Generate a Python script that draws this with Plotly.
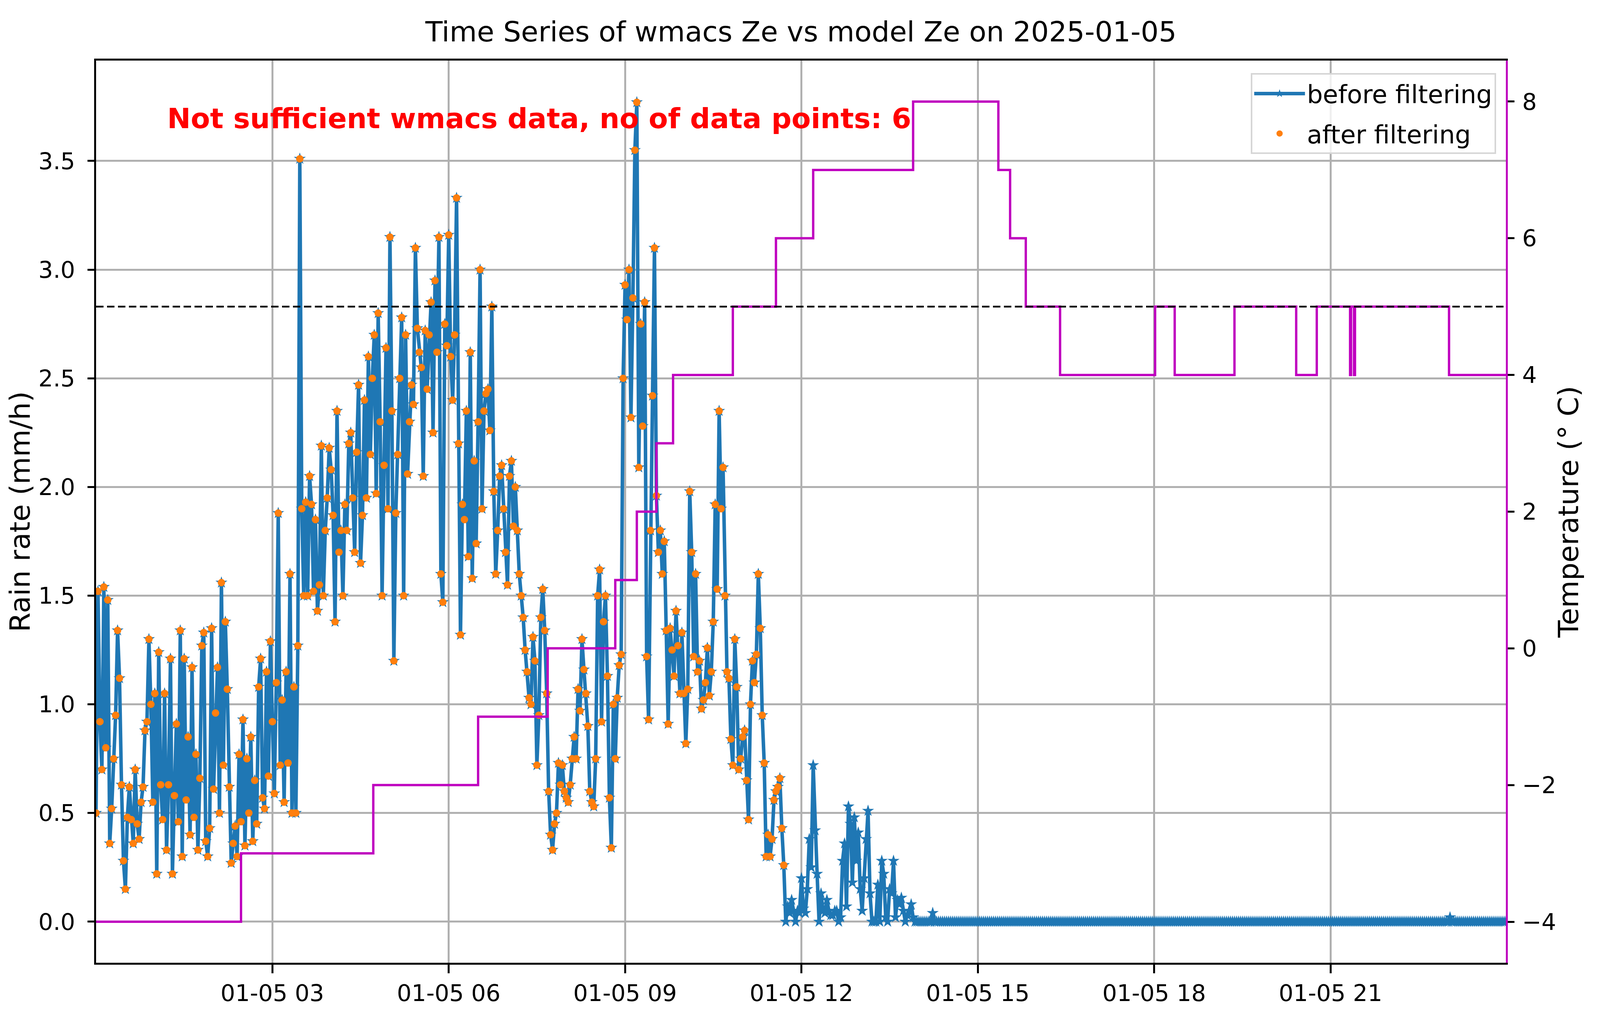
import pandas as pd
import plotly.graph_objects as go
from plotly.subplots import make_subplots

day = "2025-01-05"
step_min = 2  # rain rate sampled every 2 minutes from 00:00

# Rain rate (mm/h) 00:00 - 11:42, kept by the filter too
rain_morning = [
    # 00:00 - 01:00
    0.50, 1.52, 0.92, 0.70, 1.54, 0.80, 1.48, 0.36, 0.52, 0.75,
    0.95, 1.34, 1.12, 0.63, 0.28, 0.15, 0.48, 0.62, 0.47, 0.36,
    0.70, 0.45, 0.38, 0.55, 0.62, 0.88, 0.92, 1.30, 1.00, 0.55,
    # 01:00 - 02:00
    1.05, 0.22, 1.24, 0.63, 0.47, 1.05, 0.33, 0.63, 1.21, 0.22,
    0.58, 0.91, 0.46, 1.34, 0.30, 1.21, 0.56, 0.85, 0.40, 1.17,
    0.48, 0.77, 0.33, 0.66, 1.27, 1.33, 0.37, 0.30, 0.43, 1.35,
    # 02:00 - 03:00
    0.61, 0.96, 1.17, 0.50, 1.56, 0.72, 1.38, 1.07, 0.62, 0.27,
    0.36, 0.44, 0.30, 0.77, 0.46, 0.93, 0.35, 0.75, 0.50, 0.85,
    0.37, 0.65, 0.45, 1.08, 1.21, 0.57, 0.52, 1.15, 0.67, 1.29,
    # 03:00 - 04:00
    0.92, 0.59, 1.10, 1.88, 0.72, 1.02, 0.55, 1.15, 0.73, 1.60,
    0.50, 1.08, 0.50, 1.27, 3.51, 1.90, 1.50, 1.93, 1.50, 2.05,
    1.92, 1.52, 1.85, 1.43, 1.55, 2.19, 1.50, 1.80, 1.95, 2.18,
    # 04:00 - 05:00
    2.08, 1.87, 1.38, 2.35, 1.70, 1.80, 1.50, 1.92, 1.80, 2.20,
    2.25, 1.95, 1.70, 2.16, 2.47, 1.65, 1.87, 2.40, 1.95, 2.60,
    2.15, 2.50, 2.70, 1.97, 2.80, 2.30, 1.50, 2.10, 2.64, 1.90,
    # 05:00 - 06:00
    3.15, 2.35, 1.20, 1.88, 2.15, 2.50, 2.78, 1.50, 2.70, 2.06,
    2.30, 2.47, 2.38, 3.10, 2.73, 2.62, 2.55, 2.05, 2.72, 2.45,
    2.70, 2.85, 2.25, 2.95, 2.62, 3.15, 1.60, 1.47, 2.75, 2.65,
    # 06:00 - 07:00
    3.16, 2.60, 2.40, 2.70, 3.33, 2.20, 1.32, 1.92, 1.85, 2.35,
    1.68, 2.62, 1.58, 2.12, 1.74, 2.30, 3.00, 1.90, 2.35, 2.43,
    2.45, 2.26, 2.83, 1.98, 1.60, 1.80, 2.05, 2.10, 1.90, 1.70,
    # 07:00 - 08:00
    1.55, 2.05, 2.12, 1.82, 2.00, 1.80, 1.60, 1.50, 1.40, 1.25,
    1.15, 1.03, 1.00, 1.31, 1.20, 0.72, 0.95, 1.40, 1.53, 1.34,
    1.05, 0.60, 0.40, 0.33, 0.45, 0.50, 0.73, 0.63, 0.72, 0.60,
    # 08:00 - 09:00
    0.57, 0.55, 0.63, 0.75, 0.85, 0.75, 1.07, 0.97, 1.30, 1.16,
    1.05, 0.90, 0.60, 0.55, 0.53, 0.75, 1.50, 1.62, 0.92, 1.38,
    1.50, 1.13, 0.57, 0.34, 1.00, 0.75, 1.03, 1.18, 1.23, 2.50,
    # 09:00 - 10:00
    2.93, 2.77, 3.00, 2.32, 2.87, 3.55, 3.77, 2.09, 2.75, 2.28,
    2.85, 1.22, 0.93, 1.80, 2.42, 3.10, 1.96, 1.70, 1.80, 1.60,
    1.75, 1.34, 0.91, 1.35, 1.25, 1.13, 1.43, 1.27, 1.05, 1.33,
    # 10:00 - 11:00
    1.05, 0.82, 1.07, 1.98, 1.70, 1.22, 1.60, 1.15, 1.20, 0.98,
    1.02, 1.10, 1.26, 1.04, 1.15, 1.38, 1.92, 1.53, 2.35, 1.90,
    2.09, 1.50, 1.15, 1.12, 0.84, 0.72, 1.30, 1.08, 0.70, 0.75,
    # 11:00 - 11:42
    0.85, 0.88, 0.65, 0.47, 1.00, 1.20, 1.10, 1.23, 1.60, 1.35,
    0.95, 0.73, 0.30, 0.40, 0.30, 0.38, 0.56, 0.60, 0.62, 0.66,
    0.43, 0.26,
]

# Rain rate 11:44 - 14:22, only before filtering
rain_midday = [
    0.00, 0.07, 0.04, 0.10, 0.05, 0.00, 0.05, 0.04, 0.20, 0.06,
    0.04, 0.15, 0.38, 0.25, 0.72, 0.42, 0.22, 0.00, 0.13, 0.05,
    0.04, 0.10, 0.05, 0.03, 0.03, 0.05, 0.05, 0.00, 0.02, 0.28,
    0.36, 0.07, 0.53, 0.45, 0.18, 0.48, 0.28, 0.41, 0.15, 0.05,
    0.20, 0.38, 0.51, 0.13, 0.00, 0.00, 0.00, 0.17, 0.00, 0.28,
    0.22, 0.02, 0.00, 0.15, 0.13, 0.28, 0.02, 0.10, 0.08, 0.11,
    0.05, 0.00, 0.03, 0.05, 0.08, 0.02, 0.00, 0.00, 0.00, 0.00,
    0.00, 0.00, 0.00, 0.00, 0.00, 0.04, 0.00, 0.00, 0.00, 0.00,
]

# Rain rate 14:24 - 23:58, dry
rain_evening = [
    0, 0, 0, 0, 0, 0, 0, 0, 0, 0, 0, 0, 0, 0, 0, 0, 0, 0, 0, 0, 0, 0, 0, 0,
    0, 0, 0, 0, 0, 0, 0, 0, 0, 0, 0, 0, 0, 0, 0, 0, 0, 0, 0, 0, 0, 0, 0, 0,
    0, 0, 0, 0, 0, 0, 0, 0, 0, 0, 0, 0, 0, 0, 0, 0, 0, 0, 0, 0, 0, 0, 0, 0,
    0, 0, 0, 0, 0, 0, 0, 0, 0, 0, 0, 0, 0, 0, 0, 0, 0, 0, 0, 0, 0, 0, 0, 0,
    0, 0, 0, 0, 0, 0, 0, 0, 0, 0, 0, 0, 0, 0, 0, 0, 0, 0, 0, 0, 0, 0, 0, 0,
    0, 0, 0, 0, 0, 0, 0, 0, 0, 0, 0, 0, 0, 0, 0, 0, 0, 0, 0, 0, 0, 0, 0, 0,
    0, 0, 0, 0, 0, 0, 0, 0, 0, 0, 0, 0, 0, 0, 0, 0, 0, 0, 0, 0, 0, 0, 0, 0,
    0, 0, 0, 0, 0, 0, 0, 0, 0, 0, 0, 0, 0, 0, 0, 0, 0, 0, 0, 0, 0, 0, 0, 0,
    0, 0, 0, 0, 0, 0, 0, 0, 0, 0, 0, 0, 0, 0, 0, 0, 0, 0, 0, 0, 0, 0, 0, 0,
    0, 0, 0, 0, 0, 0, 0, 0, 0, 0, 0, 0, 0, 0, 0, 0, 0, 0, 0, 0, 0, 0, 0, 0,
    0, 0, 0, 0, 0, 0, 0, 0, 0, 0, 0, 0, 0, 0, 0, 0, 0, 0, 0, 0.02, 0, 0, 0, 0,
    0, 0, 0, 0, 0, 0, 0, 0, 0, 0, 0, 0, 0, 0, 0, 0, 0, 0, 0, 0, 0, 0, 0, 0,
]

# Model temperature (deg C), value holds from the given minute of the day
temp_minute = [0, 148, 283, 390, 461, 530, 552, 572, 589, 650, 694, 732, 834, 921,
               933, 949, 984, 1081, 1101, 1162, 1225, 1246, 1280, 1281, 1284, 1285,
               1381, 1439]
temp_value = [-4, -3, -2, -1, 0, 1, 2, 3, 4, 5, 6, 7, 8, 7,
              6, 5, 4, 5, 4, 5, 4, 5, 4, 5, 4, 5,
              4, 4]
threshold_temp = 5

tick_hours = [3, 6, 9, 12, 15, 18, 21]
data_points = 6

title = "Time Series of wmacs Ze vs model Ze on " + day
note = "Not sufficient wmacs data, no of data points: " + str(data_points)

# Build time axes
rain_before = rain_morning + rain_midday + rain_evening
rain_after = rain_morning
t0 = pd.Timestamp(day)
rain_time = pd.date_range(t0, periods=len(rain_before), freq=str(step_min) + "min")
temp_time = t0 + pd.to_timedelta(temp_minute, unit="min")
tick_time = [t0 + pd.Timedelta(hours=h) for h in tick_hours]

font = "DejaVu Sans"
blue = "#1f77b4"
orange = "#ff7f0e"
magenta = "#bf00bf"
grid = "#b0b0b0"

# the browser screen is 4096 px wide, so the page is sized to fit in it
fig_w, fig_h = 4080, 2615

fig = make_subplots(specs=[[{"secondary_y": True}]])

fig.add_trace(go.Scatter(x=rain_time, y=rain_before, name="before filtering",
                         mode="lines+markers", legendgroup="a",
                         line=dict(color=blue, width=9),
                         marker=dict(symbol="star", size=23, color=blue)),
              secondary_y=False)
fig.add_trace(go.Scatter(x=rain_time[:len(rain_after)], y=rain_after, name="after filtering",
                         mode="markers", legendgroup="b",
                         marker=dict(symbol="circle", size=19, color=orange)),
              secondary_y=False)
fig.add_trace(go.Scatter(x=temp_time, y=temp_value, mode="lines", showlegend=False,
                         line=dict(color=magenta, width=6, shape="hv")),
              secondary_y=True)

# threshold line on the temperature axis
fig.add_shape(type="line", xref="x domain", x0=0, x1=1, yref="y2",
              y0=threshold_temp, y1=threshold_temp,
              line=dict(color="black", width=4.5, dash="19px,9px"))

fig.add_annotation(text="<b>" + note + "</b>", xref="x domain", yref="y domain",
                   x=0.05, y=0.955, xanchor="left", yanchor="top", showarrow=False,
                   font=dict(family=font, size=72, color="red"))

axis_common = dict(showline=True, linecolor="black", linewidth=5,
                   ticks="outside", tickwidth=4.5, tickcolor="black",
                   ticklabelposition="outside",
                   tickfont=dict(family=font, size=59, color="black"),
                   zeroline=False, automargin=False)

# make_subplots keeps room for the right axis; use the full width instead
fig.update_xaxes(type="date", domain=[0, 1],
                 range=[t0 + pd.Timedelta(seconds=5), t0 + pd.Timedelta(minutes=1439)],
                 tickvals=tick_time, tickformat="%m-%d %H", mirror=True, ticklen=22,
                 showgrid=True, gridcolor=grid, gridwidth=4.5, ticklabelstandoff=0,
                 **axis_common)
fig.update_yaxes(range=[-0.189, 3.962], tickvals=[0, 0.5, 1, 1.5, 2, 2.5, 3, 3.5],
                 tickformat=".1f", showgrid=True, gridcolor=grid, gridwidth=4.5,
                 ticklen=17, ticklabelstandoff=20,
                 title=dict(text="Rain rate (mm/h)", font=dict(family=font, size=72),
                            standoff=0),
                 secondary_y=False, **axis_common)
axis_right = dict(axis_common, linecolor=magenta)
fig.update_yaxes(range=[-4.6, 8.6], tickvals=[-4, -2, 0, 2, 4, 6, 8],
                 showgrid=False, ticklen=17, ticklabelstandoff=8,
                 title=dict(text="Temperature (° C)", font=dict(family=font, size=72),
                            standoff=8),
                 secondary_y=True, **axis_right)

fig.update_layout(
    width=fig_w, height=fig_h,
    margin=dict(l=238, r=233, t=147, b=159, autoexpand=False),
    paper_bgcolor="white", plot_bgcolor="white",
    font=dict(family=font, color="black"),
    title=dict(text=title, x=0.5, xref="paper", xanchor="center",
               y=1 - 73 / fig_h, yref="container", yanchor="middle",
               font=dict(family=font, size=72, color="black")),
    legend=dict(x=0.993, y=0.986, xanchor="right", yanchor="top",
                bgcolor="rgba(255,255,255,0.8)", bordercolor="#d6d6d6", borderwidth=4,
                font=dict(family=font, size=64), itemwidth=130, tracegroupgap=16),
)

fig.write_html("out.html")
